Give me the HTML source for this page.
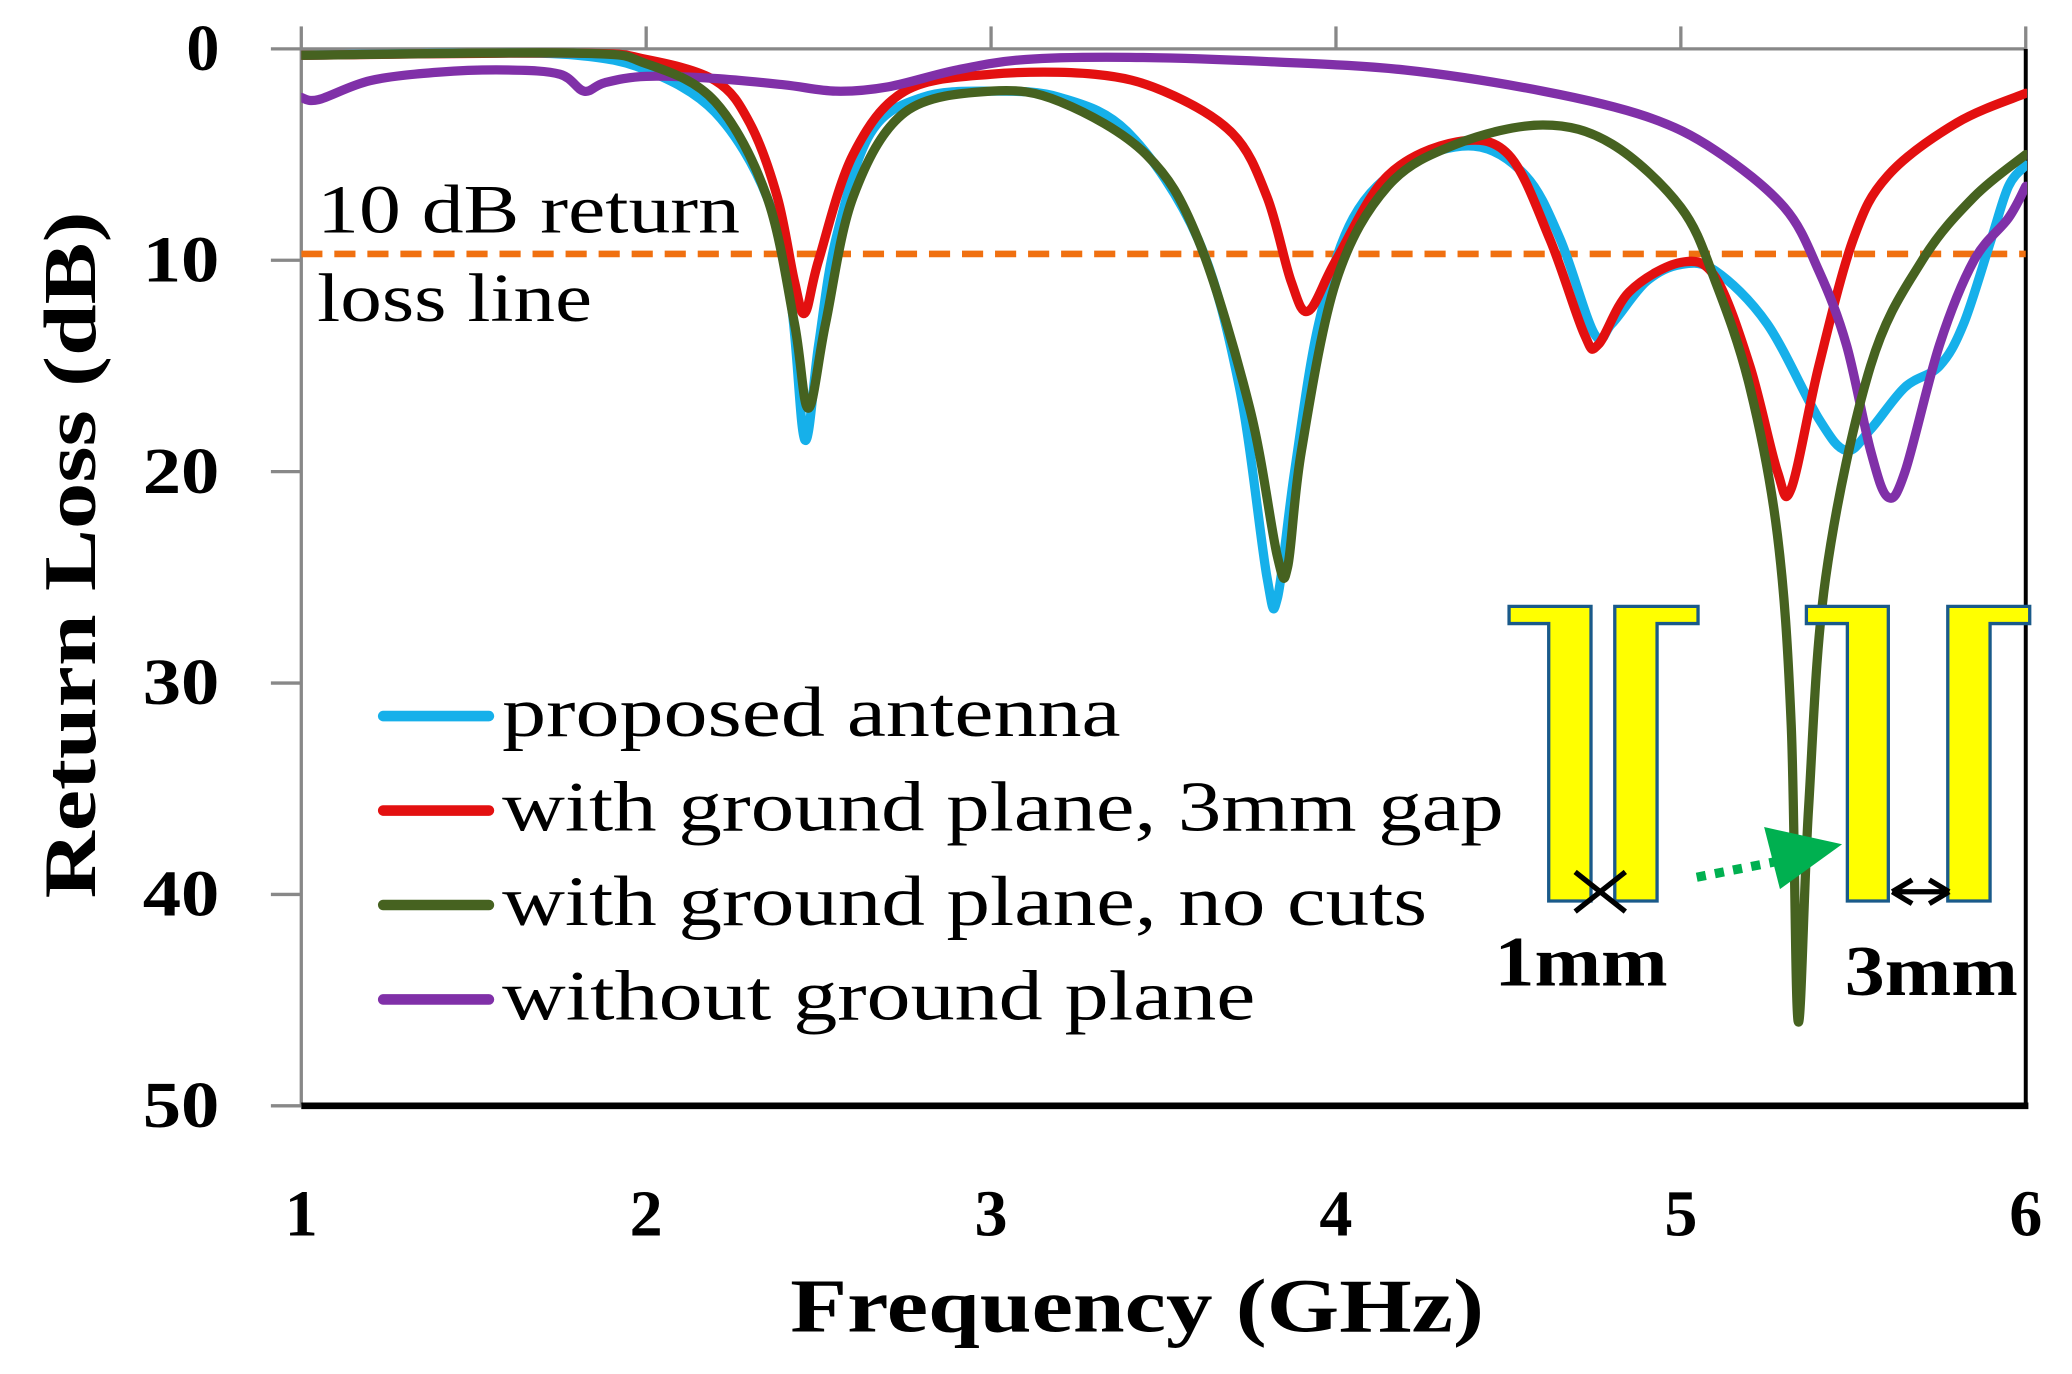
<!DOCTYPE html>
<html><head><meta charset="utf-8"><style>
html,body{margin:0;padding:0;background:#fff}
svg{display:block}
text{font-family:"Liberation Serif",serif}
</style></head><body>
<svg id="chart" width="2072" height="1374" viewBox="0 0 1568 1040" preserveAspectRatio="none" xmlns="http://www.w3.org/2000/svg">
<g id="axes"></g>
<g id="series" clip-path="url(#clip)"></g>
<defs><clipPath id="clip"><rect x="228" y="30" width="1306" height="810"/></clipPath></defs>
<g id="overlay"></g>
</svg>
<script>
const xTicks=[1,2,3,4,5,6];
const yTicks=[0,10,20,30,40,50];
const refLevel=9.7;
const blueF=[1,1.5,1.8,2,2.2,2.35,2.42,2.46,2.5,2.55,2.65,2.8,3,3.2,3.4,3.6,3.72,3.8,3.83,3.88,3.95,4.05,4.2,4.4,4.55,4.65,4.75,4.8,4.9,5.0,5.1,5.25,5.4,5.48,5.55,5.65,5.75,5.82,5.9,5.95,6];
const blueV=[0.3,0.2,0.3,1,3,7,12,18.5,14,9,4,2.3,2,2.3,4,9,16,25,26,20,13,8,5.5,4.6,6,9,13.5,13,11,10.2,10.5,13,17.5,19,18,16,15,13,9,6.5,5.5];
const redF=[1,1.8,2.0,2.2,2.3,2.38,2.43,2.46,2.5,2.6,2.75,3,3.3,3.5,3.7,3.8,3.87,3.92,4.0,4.15,4.35,4.5,4.62,4.72,4.76,4.85,5.0,5.1,5.2,5.28,5.32,5.4,5.5,5.6,5.8,6];
const redV=[0.3,0.2,0.5,1.5,3.5,7,11,12.5,10,5,2,1.2,1.2,2,4,7,11,12.4,10,6,4.4,5,9,13.5,14,11.5,10.1,10.8,15,20,20.8,15,9,6,3.5,2.1];
const greenF=[1,1.8,2.0,2.2,2.35,2.43,2.47,2.52,2.6,2.75,3,3.2,3.45,3.6,3.75,3.83,3.86,3.9,4.0,4.15,4.35,4.6,4.8,5.0,5.1,5.2,5.28,5.32,5.34,5.37,5.42,5.55,5.7,5.85,6];
const greenV=[0.3,0.2,0.7,2.5,7,13,17,13,7,3,2,2.5,5,9,17,24,24.5,19,11,6.5,4.5,3.6,4.5,7.5,11,16,23,32,46,36,25,15,10,7,5];
const purpleF=[1,1.05,1.2,1.4,1.6,1.75,1.82,1.88,2.0,2.2,2.4,2.55,2.7,2.9,3.1,3.4,3.8,4.2,4.6,4.9,5.1,5.3,5.4,5.48,5.55,5.6,5.65,5.75,5.85,5.95,6];
const purpleV=[2.3,2.4,1.5,1.1,1.0,1.2,2,1.6,1.3,1.4,1.7,2,1.8,1.0,0.5,0.4,0.6,1.0,2,3.2,4.8,7.5,10.5,14,19,21.2,20,14,10,8,6.5];
const legendLabels=["proposed antenna","with ground plane, 3mm gap","with ground plane, no cuts","without ground plane"];
const NS="http://www.w3.org/2000/svg";
const X=f=>228+(f-1)*(1533-228)/5;
const Y=v=>37+v*16;
function mk(tag,attrs,parent,txt){const e=document.createElementNS(NS,tag);for(const k in attrs)e.setAttribute(k,attrs[k]);if(txt!==undefined)e.textContent=txt;parent.appendChild(e);return e;}
const axes=document.getElementById('axes'),ser=document.getElementById('series'),ov=document.getElementById('overlay');
let l=mk('line',{x1:228,y1:37,x2:1533,y2:37,stroke:'#888','stroke-width':2.5},axes);


l=mk('line',{x1:228,y1:37,x2:228,y2:837,stroke:'#888','stroke-width':2.5},axes);


l=mk('line',{x1:1533,y1:37,x2:1533,y2:838,stroke:'#000','stroke-width':3},axes);


l=mk('line',{x1:228,y1:837,x2:1535,y2:837,stroke:'#000','stroke-width':5},axes);


xTicks.forEach(t=>{
  const tk=mk('line',{x1:X(t),y1:37,x2:X(t),y2:20,stroke:'#888','stroke-width':2.5},axes);
  
  
  const tx=mk('text',{x:X(t),y:935,'text-anchor':'middle','font-size':50,'font-weight':'bold'},axes,String(t));
  
  
});
yTicks.forEach(t=>{
  const attrs={x:166,y:Y(t)+16,'text-anchor':'end','font-size':50,'font-weight':'bold'};
  if(String(t).length==2){attrs.textLength=58;attrs.lengthAdjust='spacingAndGlyphs';}
  const tk=mk('line',{x1:205,y1:Y(t),x2:228,y2:Y(t),stroke:'#888','stroke-width':2.5},axes);
  
  
  const tx=mk('text',attrs,axes,String(t));
  
  
});
let t=mk('text',{x:598,y:1008,'font-size':58,'font-weight':'bold',textLength:525,lengthAdjust:'spacingAndGlyphs'},axes,'Frequency (GHz)');


t=mk('text',{x:0,y:0,'text-anchor':'middle','font-size':56,'font-weight':'bold',textLength:520,lengthAdjust:'spacingAndGlyphs',transform:'translate(72,420) rotate(-90)'},axes,'Return Loss (dB)');


l=mk('line',{x1:228,y1:Y(refLevel),x2:1533,y2:Y(refLevel),stroke:'#f07010','stroke-width':5,'stroke-dasharray':'16 9'},ser);


function pathFrom(F,V){
  const p=F.map((f,i)=>[X(f),Y(V[i])]);
  let d='M'+p[0][0]+','+p[0][1];
  for(let i=0;i<p.length-1;i++){
    const p0=p[i-1]||p[i],p1=p[i],p2=p[i+1],p3=p[i+2]||p2;
    const c1=[p1[0]+(p2[0]-p0[0])/6,p1[1]+(p2[1]-p0[1])/6];
    const c2=[p2[0]-(p3[0]-p1[0])/6,p2[1]-(p3[1]-p1[1])/6];
    d+=` C${c1[0]},${c1[1]} ${c2[0]},${c2[1]} ${p2[0]},${p2[1]}`;
  }
  return d;
}
const S=[[blueF,blueV,'#16b0ea','series-proposed-antenna'],[redF,redV,'#e31010','series-3mm-gap'],[purpleF,purpleV,'#8030a8','series-without-ground'],[greenF,greenV,'#466220','series-no-cuts']];
S.forEach(s=>{
  const p=mk('path',{d:pathFrom(s[0],s[1]),fill:'none',stroke:s[2],'stroke-width':7,'stroke-linejoin':'round','stroke-linecap':'round'},ser);
  
  
});
t=mk('text',{x:240,y:176,'font-size':52,textLength:320,lengthAdjust:'spacingAndGlyphs'},ov,'10 dB return');


t=mk('text',{x:240,y:243,'font-size':52,textLength:208,lengthAdjust:'spacingAndGlyphs'},ov,'loss line');


const lc=['#16b0ea','#e31010','#466220','#8030a8'];
const lw=[468,758,700,570];
legendLabels.forEach((lab,i)=>{
  const y=542+i*71.5;
  const ll=mk('line',{x1:290,y1:y,x2:370,y2:y,stroke:lc[i],'stroke-width':8,'stroke-linecap':'round'},ov);
  
  
  const lt=mk('text',{x:380,y:y+15,'font-size':54,textLength:lw[i],lengthAdjust:'spacingAndGlyphs'},ov,lab);
  
  
});
const shapes=[
 '1142,459 1204,459 1204,682 1172,682 1172,472 1142,472',
 '1222,459 1285,459 1285,472 1254,472 1254,682 1222,682',
 '1367,459 1429,459 1429,682 1398,682 1398,472 1367,472',
 '1474,459 1536,459 1536,472 1506,472 1506,682 1474,682'];
shapes.forEach((pts,i)=>{
  const pg=mk('polygon',{points:pts,fill:'#ffff00',stroke:'#1a5a8a','stroke-width':2.5},ov);
  
  
});
let g=mk('path',{d:'M1192,660 L1230,690 M1192,690 L1230,660',stroke:'#000','stroke-width':4},ov);


g=mk('path',{d:'M1432,675 L1475,675 M1432,675 L1447,666 M1432,675 L1447,684 M1475,675 L1460,666 M1475,675 L1460,684',stroke:'#000','stroke-width':4,fill:'none'},ov);


g=mk('line',{x1:1284,y1:664,x2:1350,y2:651,stroke:'#00b050','stroke-width':7,'stroke-dasharray':'7 7'},ov);


g=mk('polygon',{points:'1335,626 1394,639 1347,673',fill:'#00b050'},ov);


t=mk('text',{x:1131,y:746,'font-size':54,'font-weight':'bold',textLength:131,lengthAdjust:'spacingAndGlyphs'},ov,'1mm');


t=mk('text',{x:1396,y:753,'font-size':54,'font-weight':'bold',textLength:131,lengthAdjust:'spacingAndGlyphs'},ov,'3mm');


</script>
</body></html>
